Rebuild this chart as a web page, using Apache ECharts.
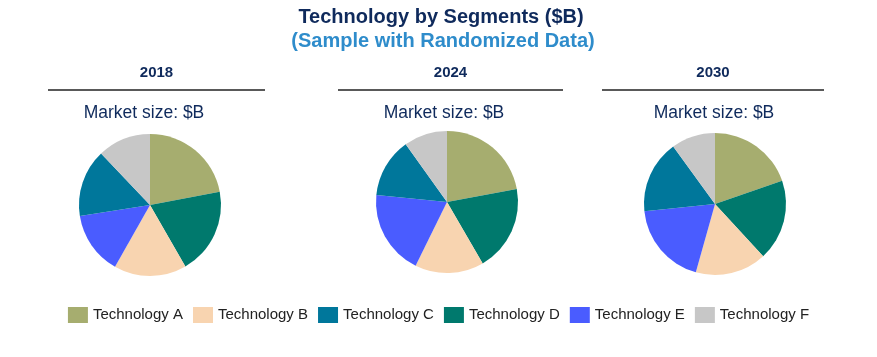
<!DOCTYPE html>
<html><head><meta charset="utf-8">
<script src="https://cdn.jsdelivr.net/npm/echarts@6/dist/echarts.min.js"></script>
<style>html,body{margin:0;padding:0;background:#fff}#c{width:877px;height:357px}</style>
</head><body><div id="c"></div>
<script>
const years = ['2018', '2024', '2030'];
const technologies = ['Technology A', 'Technology B', 'Technology C', 'Technology D', 'Technology E', 'Technology F'];
// slice draw order clockwise from 12 o'clock
const sliceOrder = ['Technology A', 'Technology D', 'Technology B', 'Technology E', 'Technology C', 'Technology F'];
const values2018 = { 'Technology A': 22.0, 'Technology B': 16.5, 'Technology C': 15.4, 'Technology D': 19.7, 'Technology E': 14.3, 'Technology F': 12.1 };
const values2024 = { 'Technology A': 22.1, 'Technology B': 15.7, 'Technology C': 13.6, 'Technology D': 19.6, 'Technology E': 19.3, 'Technology F': 9.9 };
const values2030 = { 'Technology A': 19.7, 'Technology B': 16.2, 'Technology C': 16.6, 'Technology D': 18.4, 'Technology E': 19.0, 'Technology F': 10.0 };
const yearValues = [values2018, values2024, values2030];
const colors = { 'Technology A': '#a6ad6f', 'Technology B': '#f8d4b0', 'Technology C': '#00779b', 'Technology D': '#00796d', 'Technology E': '#4a5cff', 'Technology F': '#c7c7c7' };

const centersX = [150, 447, 715];
const centersY = [205, 202, 204];
const marketLabelX = [144, 444, 714];
const lineSpans = [[48, 265], [338, 563], [602, 824]];
const navy = '#0f2a5c';

const chart = echarts.init(document.getElementById('c'));
const graphics = [
  { type: 'text', style: { text: 'Technology by Segments ($B)', x: 441, y: 17, align: 'center', verticalAlign: 'middle',
    font: 'bold 20px "Liberation Sans", Arial', fill: navy } },
  { type: 'text', style: { text: '(Sample with Randomized Data)', x: 443, y: 41, align: 'center', verticalAlign: 'middle',
    font: 'bold 20px "Liberation Sans", Arial', fill: '#2e8ccb' } }
];
years.forEach((y, i) => {
  const cx = (lineSpans[i][0] + lineSpans[i][1]) / 2;
  graphics.push({ type: 'text', style: { text: y, x: cx, y: 73, align: 'center', verticalAlign: 'middle',
    font: 'bold 15px "Liberation Sans", Arial', fill: navy } });
  graphics.push({ type: 'line', shape: { x1: lineSpans[i][0], y1: 90, x2: lineSpans[i][1], y2: 90 },
    style: { stroke: '#222', lineWidth: 1.5 } });
  graphics.push({ type: 'text', style: { text: 'Market size: $B', x: marketLabelX[i], y: 113, align: 'center', verticalAlign: 'middle',
    font: '17.5px "Liberation Sans", Arial', fill: navy } });
});

const series = years.map((y, i) => ({
  type: 'pie', name: y, radius: 71, center: [centersX[i], centersY[i]], startAngle: 90, clockwise: true,
  label: { show: false }, labelLine: { show: false }, silent: true, animation: false,
  itemStyle: { borderWidth: 0 },
  data: sliceOrder.map(n => ({ name: n, value: yearValues[i][n], itemStyle: { color: colors[n] } }))
}));

chart.setOption({
  animation: false,
  graphic: graphics,
  legend: { data: technologies, left: 'center', top: 302, itemWidth: 20, itemHeight: 16, itemGap: 10,
    icon: 'rect', textStyle: { fontFamily: 'Liberation Sans, Arial', fontSize: 15, color: '#222' } },
  series: series
});
</script></body></html>
